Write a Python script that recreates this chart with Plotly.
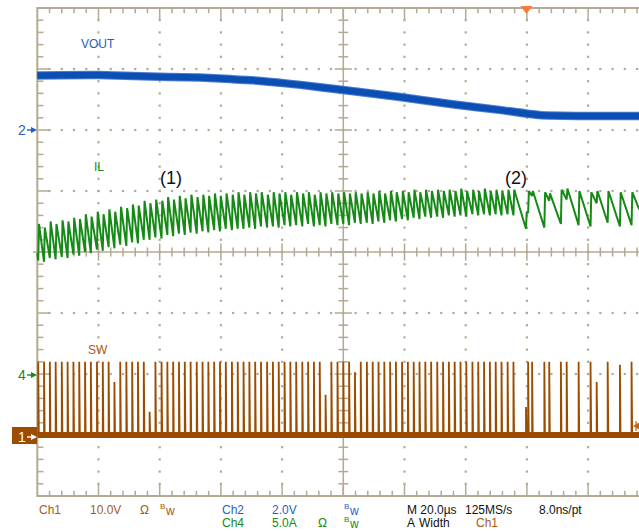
import plotly.graph_objects as go

# screen geometry, in pixels of the 639x531 capture
FIG_W, FIG_H = 639, 531
L, T, W, H = 33, 5, 606, 494        # plot area
XC, YC = 343.3, 252.0               # graticule centre
PX_US = 3.06                        # 61.2 px per 20 us division
PX_DIV = 61.0                       # px per vertical division

# channel settings: scale per div, ground marker position in div
VOUT_SCALE, VOUT_POS = 2.0, 2.0     # Ch2
IL_SCALE, IL_POS = 5.0, -2.0        # Ch4
SW_SCALE, SW_POS = 10.0, -3.0       # Ch1

# VOUT (V) along the trace
vout_t = [-100, -80, -57, -47, -37, -27, -14, 0, 18.5, 35, 51, 64, 77, 96.7]
vout_v = [1.79, 1.80, 1.74, 1.72, 1.67, 1.61, 1.48, 1.31, 1.08, 0.85, 0.66, 0.49, 0.46, 0.46]

# SW pulse times (us): steady switching, then the burst section after (2)
sw_t_cont = [
    -99.7, -97.8, -95.9, -94.0, -92.0, -90.1, -88.2, -86.3, -84.4, -82.5,
    -80.5, -78.6, -76.7, -74.8, -72.9, -70.9, -69.0, -67.1, -65.2, -63.3,
    -61.4, -59.4, -57.5, -55.6, -53.7, -51.8, -49.9, -47.9, -46.0, -44.1,
    -42.2, -40.3, -38.4, -36.4, -34.5, -32.6, -30.7, -28.8, -26.9, -24.9,
    -23.0, -21.1, -19.2, -17.3, -15.4, -13.4, -11.5, -9.6, -7.7, -5.8,
    -3.9, -1.9, 0.0, 1.9, 3.8, 5.7, 7.7, 9.6, 11.5, 13.4,
    15.3, 17.2, 19.2, 21.1, 23.0, 24.9, 26.8, 28.7, 30.7, 32.6,
    34.5, 36.4, 38.3, 40.2, 42.2, 44.1, 46.0, 47.9, 49.8, 51.7,
    53.7, 55.6,
]
sw_t_burst = [59.7, 60.4, 61.7, 65.7, 67.3, 71.1, 73.0, 76.9, 80.8, 82.8, 86.4, 90.4, 94.2]
sw_t = sw_t_cont + sw_t_burst

sw_top = 12.0                                   # normal pulse height (V)
sw_short = {13: 8.7, 19: 3.8, 49: 6.6, 54: 10.3, 82: 4.6, 91: 8.7, 93: 11.5}

# IL (A): valley just before each pulse, peak just after it
il_lo = [
    9.3, 9.2, 9.5, 9.4, 9.6, 9.5, 9.8, 9.7, 10.0, 9.9,
    10.2, 10.1, 10.4, 10.3, 10.6, 10.5, 10.8, 10.7, 11.0, 11.0,
    11.2, 11.1, 11.4, 11.3, 11.5, 11.4, 11.6, 11.5, 11.7, 11.6,
    11.8, 11.7, 11.9, 11.8, 11.9, 11.9, 12.0, 11.9, 12.1, 12.0,
    12.1, 12.0, 12.2, 12.1, 12.2, 12.1, 12.3, 12.1, 12.2, 12.1,
    12.3, 12.2, 12.3, 12.2, 12.4, 12.3, 12.4, 12.3, 12.5, 12.4,
    12.6, 12.5, 12.7, 12.6, 12.8, 12.7, 12.9, 12.8, 12.9, 12.8,
    13.0, 12.9, 13.0, 12.9, 13.1, 13.0, 13.1, 13.0, 13.1, 13.0,
    13.1, 13.0,
    11.9, 13.2, 14.6, 12.0, 14.2, 12.3, 14.3, 12.2, 12.1, 14.0, 12.4, 12.1, 12.2,
]
il_hi = [
    12.3, 12.0, 12.5, 12.3, 12.6, 12.5, 12.8, 12.7, 13.1, 12.9,
    13.3, 13.1, 13.5, 13.3, 13.7, 13.6, 13.9, 13.8, 14.2, 14.0,
    14.3, 14.2, 14.5, 14.3, 14.6, 14.4, 14.7, 14.5, 14.7, 14.6,
    14.8, 14.6, 14.8, 14.7, 14.9, 14.7, 14.9, 14.8, 14.9, 14.7,
    14.9, 14.8, 14.9, 14.7, 14.9, 14.8, 14.9, 14.7, 14.9, 14.8,
    14.9, 14.8, 14.9, 14.8, 14.9, 14.8, 14.9, 14.8, 15.0, 14.8,
    15.0, 14.9, 15.0, 14.9, 15.1, 14.9, 15.1, 15.0, 15.1, 15.0,
    15.1, 15.0, 15.2, 15.0, 15.1, 15.0, 15.2, 15.0, 15.1, 15.0,
    15.1, 15.1,
    13.3, 15.0, 15.0, 14.9, 14.8, 15.1, 15.2, 15.0, 14.9, 15.0, 15.0, 14.9, 14.9,
]
il_start = (-100.0, 9.9)
il_end = (96.7, 13.5)

# ---- colours ----
GRID = "#b3aa93"
BLUE = "#0b4fb4"
GREEN = "#168a16"
BROWN = "#9c4c00"
ORANGE = "#ff7a3a"
FONT = "Liberation Sans, Arial, sans-serif"


def t_of(x):
    return (x - XC) / PX_US


def d_of(y):
    return (YC - y) / PX_DIV


def paper(x, y):
    return (x - L) / W, (T + H - y) / H


fig = go.Figure()

# ---- graticule ----
majors_t = [-80, -60, -40, -20, 20, 40, 60, 80]
majors_d = [-3, -2, -1, 1, 2, 3]
minor_t = [-100 + 4 * k for k in range(1, 50)]
minor_d = [round(-4 + 0.2 * k, 2) for k in range(1, 40)]

dot_x, dot_y = [], []
for tm in majors_t:
    for dm in minor_d:
        dot_x.append(tm)
        dot_y.append(dm)
for dm in majors_d:
    for tm in minor_t:
        dot_x.append(tm)
        dot_y.append(dm)
fig.add_trace(go.Scatter(x=dot_x, y=dot_y, mode="markers", hoverinfo="skip",
                         marker=dict(symbol="square", size=2.2, color=GRID)))

tx, ty = [], []


def seg(x0, y0, x1, y1):
    tx.extend([x0, x1, None])
    ty.extend([y0, y1, None])


for tm in minor_t:
    major = tm % 20 == 0
    h = 0.14 if major else 0.075
    seg(tm, -h, tm, h)                                   # centre line
    seg(tm, 4, tm, 4 - (0.2 if major else 0.085))        # top border
    seg(tm, -4, tm, -4 + (0.2 if major else 0.085))      # bottom border
for dm in minor_d:
    major = float(dm).is_integer()
    w = 2.8 if major else 1.6
    seg(-w, dm, w, dm)                                   # centre line
    seg(-100, dm, -100 + (4.2 if major else 2.0), dm)    # left border
seg(-120, 0, 120, 0)
seg(0, -4, 0, 4)
fig.add_trace(go.Scatter(x=tx, y=ty, mode="lines", hoverinfo="skip",
                         line=dict(color=GRID, width=1.5)))
fig.add_trace(go.Scatter(x=[120, -100, -100, 120], y=[4, 4, -4, -4], mode="lines",
                         hoverinfo="skip", line=dict(color=GRID, width=2)))

# ---- Ch1 SW ----
sw_x, sw_y = [], []
for i, t in enumerate(sw_t):
    h = sw_short.get(i, sw_top)
    for xv, yv in ((t, 0), (t, h), (t + 0.2, h), (t + 0.2, 0)):
        sw_x.append(xv)
        sw_y.append(yv / SW_SCALE + SW_POS)
fig.add_trace(go.Scatter(x=[-100, 96.7], y=[SW_POS, SW_POS], mode="lines",
                         hoverinfo="skip", line=dict(color=BROWN, width=6)))
fig.add_trace(go.Scatter(x=sw_x, y=sw_y, mode="lines", hoverinfo="skip",
                         line=dict(color=BROWN, width=1.8)))

# ---- Ch4 IL ----
il_x, il_y = [il_start[0]], [il_start[1]]
for t, lo, hi in zip(sw_t, il_lo, il_hi):
    il_x += [t, t + 0.25]
    il_y += [lo, hi]
il_x.append(il_end[0])
il_y.append(il_end[1])
fig.add_trace(go.Scatter(x=il_x, y=[v / IL_SCALE + IL_POS for v in il_y], mode="lines",
                         hoverinfo="skip", line=dict(color=GREEN, width=2)))

# ---- Ch2 VOUT ----
vout_d = [v / VOUT_SCALE + VOUT_POS for v in vout_v]
fig.add_trace(go.Scatter(x=vout_t, y=vout_d, mode="lines", hoverinfo="skip",
                         line=dict(color="#4f80cf", width=8.5, shape="spline", smoothing=0.6)))
fig.add_trace(go.Scatter(x=vout_t, y=vout_d, mode="lines", hoverinfo="skip",
                         line=dict(color=BLUE, width=6.5, shape="spline", smoothing=0.6)))

# ---- text ----
ann = []
shapes = []


def text(s, x, y, color, size=12, xanchor="left"):
    px_, py_ = paper(x, y)
    ann.append(dict(text=s, x=px_, y=py_, xref="paper", yref="paper", showarrow=False,
                    xanchor=xanchor, yanchor="middle",
                    font=dict(family=FONT, size=size, color=color)))


def bw(x, y, color):
    text("B", x, y - 4, color, 8)
    text("w", x + 5, y + 1, color, 12)


def tri(pts, color):
    p = [paper(x, y) for x, y in pts]
    shapes.append(dict(type="path", xref="paper", yref="paper", fillcolor=color,
                       line=dict(width=0),
                       path=f"M {p[0][0]} {p[0][1]} L {p[1][0]} {p[1][1]} L {p[2][0]} {p[2][1]} Z"))


def line(x0, y0, x1, y1, color, width=1.4):
    a, b = paper(x0, y0), paper(x1, y1)
    shapes.append(dict(type="line", xref="paper", yref="paper", x0=a[0], y0=a[1],
                       x1=b[0], y1=b[1], line=dict(color=color, width=width)))


def arrow(y, color):
    line(27, y, 32, y, color)
    tri([(31, y - 3), (31, y + 3), (37, y)], color)


# Ch1 marker box (drawn first so its arrow sits on top)
bx0, by0 = paper(12, 444)
bx1, by1 = paper(37, 427)
shapes.append(dict(type="rect", xref="paper", yref="paper", x0=bx0, y0=by0, x1=bx1, y1=by1,
                   fillcolor=BROWN, line=dict(width=0)))

text("VOUT", 97.5, 44, "#1f5fbf", 12, "center")
text("IL", 98.5, 167, GREEN, 12, "center")
text("SW", 98, 350, "#a65a14", 12, "center")
text("(1)", 171, 178, "#111111", 18, "center")
text("(2)", 516, 178, "#111111", 18, "center")

text("2", 22, 130, "#1f5fbf", 14, "center")
arrow(130, "#1f5fbf")
text("4", 22, 375, GREEN, 14, "center")
arrow(375, GREEN)
text("1", 22, 437, "white", 14, "center")
arrow(437, "white")

CH1_C, CH2_C = "#a65a14", "#1f5fcf"
text("Ch1", 37, 510, CH1_C)
text("10.0V", 88, 510, CH1_C)
text("Ω", 138, 510, CH1_C)
bw(158, 510, CH1_C)
text("Ch2", 220, 510, CH2_C)
text("2.0V", 270, 510, CH2_C)
bw(342, 510, CH2_C)
text("M 20.0µs", 405, 510, "#111111")
text("125MS/s", 463, 510, "#111111")
text("8.0ns/pt", 537, 510, "#111111")
text("Ch4", 220, 523, GREEN)
text("5.0A", 270, 523, GREEN)
text("Ω", 316, 523, GREEN)
bw(342, 523, GREEN)
text("A", 405, 523, "#111111")
text("Width", 417, 523, "#111111")
text("Ch1", 474, 523, CH1_C)

# trigger position marker on the top border, trigger level marker on the right edge
tri([(520.5, 6), (532.5, 6), (526.5, 14)], ORANGE)
tri([(633, 426), (639, 422.5), (639, 429.5)], "#c0661a")
line(636, 421, 636, 431, "#c0661a", 1.2)

fig.update_layout(
    width=FIG_W, height=FIG_H,
    margin=dict(l=L, r=FIG_W - L - W, t=T, b=FIG_H - T - H),
    paper_bgcolor="white", plot_bgcolor="white",
    showlegend=False,
    xaxis=dict(visible=False, range=[t_of(L), t_of(L + W)], fixedrange=True),
    yaxis=dict(visible=False, range=[d_of(T + H), d_of(T)], fixedrange=True),
    annotations=ann, shapes=shapes,
)

# page body margin would push the figure 8px right and down
fig.write_html("out.html", config={"displayModeBar": False},
               post_script="document.body.style.margin='0';")
